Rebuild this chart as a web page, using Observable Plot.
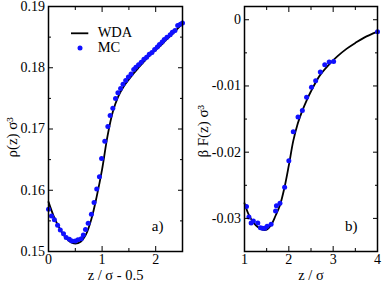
<!DOCTYPE html>
<html><head><meta charset="utf-8">
<script src="https://cdn.jsdelivr.net/npm/d3@7"></script>
<script src="https://cdn.jsdelivr.net/npm/@observablehq/plot@0.6"></script>
<style>
body{margin:0;background:#fff;}
#c{position:relative;width:382px;height:286px;font-family:'Liberation Serif';}
#c svg{position:absolute;top:0;}
#c svg text{font-family:'Liberation Serif' !important;}
</style></head><body><div id="c"></div>
<script>
// Panel a: density profile
const aWdaX = [0,0.1,0.2,0.3,0.4,0.5,0.6,0.7,0.8,0.9,1.0,1.1,1.2,1.3,1.4,1.5,1.6,1.7,1.8,1.9,2.0,2.1,2.2,2.3,2.4,2.5];
const aWdaY = [0.1581,0.1557,0.1539,0.1525,0.1516,0.1513,0.1516,0.1528,0.1553,0.1590,0.1634,0.1688,0.1728,0.1753,0.1769,0.1781,0.1792,0.1802,0.1812,0.1821,0.1829,0.1837,0.1846,0.1854,0.1863,0.1872];
const aMcX = [0.00,0.056,0.11,0.17,0.22,0.28,0.33,0.39,0.44,0.50,0.55,0.61,0.65,0.69,0.74,0.80,0.85,0.90,0.95,0.99,1.05,1.107,1.15,1.20,1.25,1.295,1.345,1.39,1.44,1.49,1.54,1.59,1.63,1.68,1.73,1.78,1.83,1.88,1.93,1.98,2.03,2.07,2.12,2.16,2.21,2.27,2.31,2.36,2.41,2.46,2.50];
const aMcY = [0.1569,0.1558,0.1552,0.1543,0.1535,0.1529,0.1523,0.1520,0.1517,0.1517,0.1519,0.1521,0.1527,0.1536,0.1546,0.1561,0.1580,0.1602,0.1622,0.1652,0.1680,0.1704,0.1722,0.1734,0.1750,0.1759,0.1766,0.1773,0.1779,0.1785,0.1790,0.1797,0.1801,0.1805,0.1809,0.1814,0.1817,0.1822,0.1825,0.1830,0.1834,0.1838,0.1842,0.1846,0.1850,0.1854,0.1858,0.1861,0.1869,0.1871,0.1873];
// Panel b: free energy
const bWdaX = [1.0,1.1,1.2,1.3,1.4,1.5,1.6,1.7,1.8,1.9,2.0,2.1,2.2,2.3,2.4,2.5,2.7,2.9,3.1,3.3,3.5,3.7,4.0];
const bWdaY = [-0.0277,-0.0295,-0.0306,-0.0313,-0.0317,-0.0317,-0.0310,-0.0296,-0.0280,-0.0254,-0.0220,-0.0183,-0.0157,-0.0138,-0.0122,-0.0108,-0.0084,-0.0068,-0.0055,-0.0044,-0.0035,-0.0027,-0.0018];
const bMcX = [1.045,1.10,1.15,1.20,1.30,1.36,1.41,1.46,1.51,1.60,1.70,1.72,1.80,1.905,2.00,2.10,2.207,2.305,2.40,2.51,2.605,2.71,2.81,2.91,3.01,4.0];
const bMcY = [-0.0282,-0.0298,-0.0307,-0.0304,-0.0307,-0.0314,-0.0315,-0.0315,-0.0312,-0.0309,-0.0289,-0.0281,-0.0277,-0.0253,-0.0213,-0.0169,-0.0147,-0.0137,-0.0117,-0.0102,-0.0092,-0.0079,-0.0068,-0.0064,-0.0063,-0.0018];

const aXMajor = [0,1,2], aXMinor = [0.5,1.5];
const aYMajor = [0.15,0.16,0.17,0.18,0.19], aYMinor = [0.155,0.165,0.175,0.185];
const bXMajor = [1,2,3,4], bXMinor = [1.5,2.5,3.5];
const bYMajor = [0,-0.01,-0.02,-0.03], bYMinor = [-0.005,-0.015,-0.025];

const zip = (xs, ys) => xs.map((x, i) => ({x, y: ys[i]}));
const FONT = "Liberation Serif";

function panel(o) {
  const blank = () => "";
  const ax = (opts) => Plot.axisX({label: null, tickFormat: blank, fontFamily: FONT, ...opts});
  const ay = (opts) => Plot.axisY({label: null, tickFormat: blank, fontFamily: FONT, ...opts});
  return Plot.plot({
    width: 191, height: 286,
    marginLeft: o.marginLeft, marginRight: o.marginRight, marginTop: 6, marginBottom: 35,
    style: {fontFamily: FONT, fontSize: "14px", background: "transparent", overflow: "visible"},
    x: {domain: o.xDomain},
    y: {domain: o.yDomain},
    marks: [
      Plot.line(zip(o.lineX, o.lineY), {x: "x", y: "y", stroke: "black", strokeWidth: 1.8, curve: "catmull-rom"}),
      Plot.dot(zip(o.mcX, o.mcY), {x: "x", y: "y", r: 2.5, fill: "#1010ff"}),
      Plot.frame({stroke: "black", strokeWidth: 1.5}),
      ax({ticks: o.xMajor, tickSize: -5, tickPadding: 7.5, tickFormat: d => String(d), fontSize: 14}),
      ax({ticks: o.xMinor, tickSize: -3}),
      ax({anchor: "top", ticks: o.xMajor, tickSize: -5}),
      ax({anchor: "top", ticks: o.xMinor, tickSize: -3}),
      ay({ticks: o.yMajor, tickSize: -5, tickPadding: 8.5, tickFormat: d => String(d), fontSize: 14}),
      ay({ticks: o.yMinor, tickSize: -3}),
      ay({anchor: "right", ticks: o.yMajor, tickSize: -5}),
      ay({anchor: "right", ticks: o.yMinor, tickSize: -3}),
      Plot.text([o.xlabel], {frameAnchor: "bottom", lineAnchor: "bottom", dy: 28.3, fontSize: 14.5, fontFamily: FONT}),
      Plot.text([o.ylabel], {frameAnchor: "left", rotate: -90, textAnchor: "start", dx: o.yLabelDx, dy: 28.6, fontSize: 15, fontFamily: FONT}),
      Plot.text([o.tag], {frameAnchor: "bottom-right", textAnchor: "end", dx: o.tagDx, dy: -21, fontSize: 15, fontFamily: FONT})
    ]
  });
}

const c = document.getElementById("c");
const pa = panel({
  xDomain: [0, 2.5], yDomain: [0.15, 0.19],
  xMajor: aXMajor, xMinor: aXMinor, yMajor: aYMajor, yMinor: aYMinor,
  lineX: aWdaX, lineY: aWdaY, mcX: aMcX, mcY: aMcY,
  xlabel: "z / σ - 0.5", ylabel: "ρ(z) σ³", tag: "a)",
  marginLeft: 48, marginRight: 9, yLabelDx: -36, tagDx: -19
});
pa.style.left = "0px";
c.appendChild(pa);

const pb = panel({
  xDomain: [1, 4], yDomain: [-0.035, 0.002],
  xMajor: bXMajor, xMinor: bXMinor, yMajor: bYMajor, yMinor: bYMinor,
  lineX: bWdaX, lineY: bWdaY, mcX: bMcX, mcY: bMcY,
  xlabel: "z / σ", ylabel: "β F(z) σ³", tag: "b)",
  marginLeft: 53, marginRight: 5, yLabelDx: -41, tagDx: -20
});
pb.style.left = "191px";
c.appendChild(pb);

// Legend (panel a)
const ns = "http://www.w3.org/2000/svg";
const leg = document.createElementNS(ns, "svg");
leg.setAttribute("width", 191); leg.setAttribute("height", 70);
leg.style.left = "0px";
leg.innerHTML =
  `<line x1="71" x2="88.3" y1="33.3" y2="33.3" stroke="black" stroke-width="1.8"/>` +
  `<text x="97.7" y="33.8" dominant-baseline="middle" font-family="Liberation Serif" font-size="14.5">WDA</text>` +
  `<circle cx="80" cy="47.9" r="2.5" fill="#1010ff"/>` +
  `<text x="97.7" y="49" dominant-baseline="middle" font-family="Liberation Serif" font-size="14.5">MC</text>`;
c.appendChild(leg);
</script></body></html>
